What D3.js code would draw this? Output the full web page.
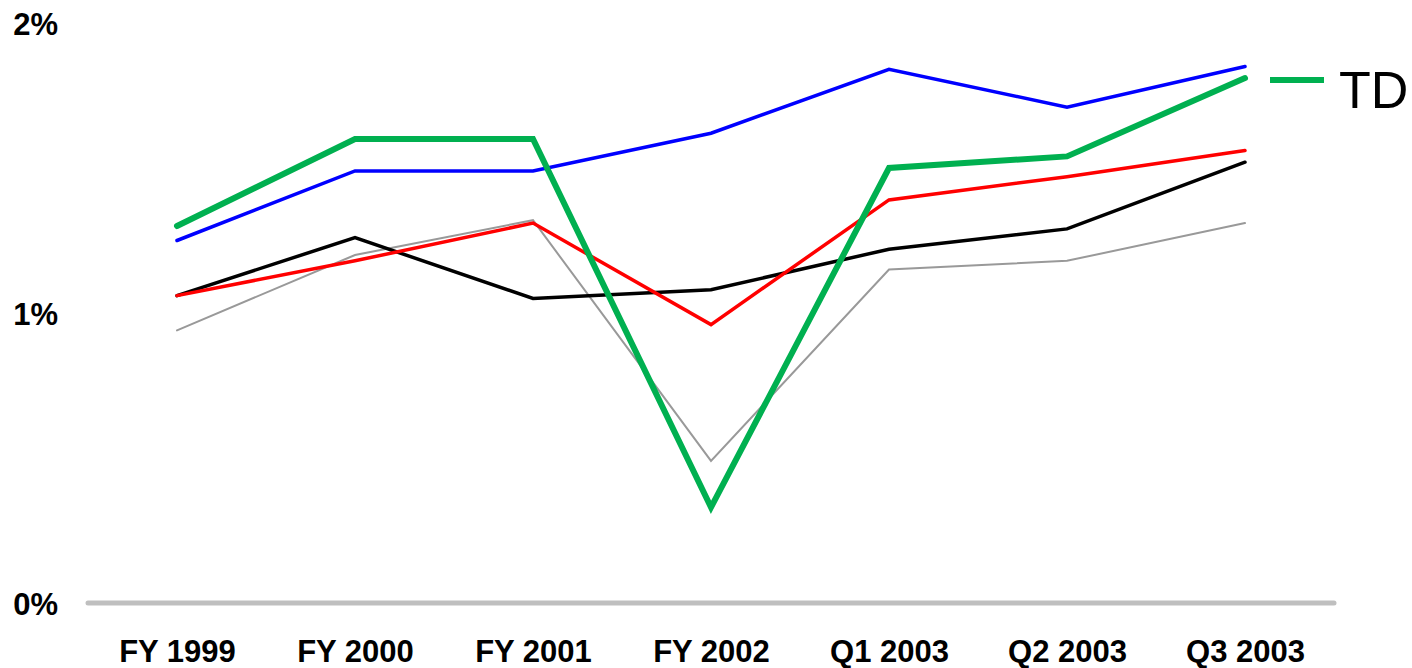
<!DOCTYPE html>
<html>
<head>
<meta charset="utf-8">
<script src="https://cdn.jsdelivr.net/npm/d3@7"></script>
<style>
  body { margin: 0; background: #fff; }
  svg { display: block; }
</style>
</head>
<body>
<svg id="chart" width="1412" height="668"></svg>
<script>
// periods on the x axis
var periods = ["FY 1999", "FY 2000", "FY 2001", "FY 2002", "Q1 2003", "Q2 2003", "Q3 2003"];
var yTicks = [0, 0.01, 0.02];

// series values (fraction)
var td    = [0.0130, 0.0160, 0.0160, 0.0033, 0.0150, 0.0154, 0.0181];
var blue  = [0.0125, 0.0149, 0.0149, 0.0162, 0.0184, 0.0171, 0.0185];
var red   = [0.0106, 0.0118, 0.0131, 0.0096, 0.0139, 0.0147, 0.0156];
var black = [0.0106, 0.0126, 0.0105, 0.0108, 0.0122, 0.0129, 0.0152];
var grey  = [0.0094, 0.0120, 0.0132, 0.0049, 0.0115, 0.0118, 0.0131];

var series = [
    {name: "grey",  values: grey,  color: "#999999", width: 2},
    {name: "black", values: black, color: "#000000", width: 3.5},
    {name: "red",   values: red,   color: "#ff0000", width: 3.5},
    {name: "blue",  values: blue,  color: "#0000ff", width: 3.5},
    {name: "TD",    values: td,    color: "#00b050", width: 6}
];

var svg = d3.select("#chart");

var xscale = d3.scalePoint()
    .domain(periods)
    .range([88, 1334])
    .padding(0.5);

var yscale = d3.scaleLinear()
    .domain([0, 0.02])
    .range([603, 23]);

// zero line
svg.append("line")
    .attr("x1", 88)
    .attr("x2", 1334)
    .attr("y1", yscale(0))
    .attr("y2", yscale(0))
    .attr("stroke", "#bfbfbf")
    .attr("stroke-width", 5)
    .attr("stroke-linecap", "round");

// y axis labels
var yAxis = d3.axisLeft(yscale)
    .tickValues(yTicks)
    .tickSize(0)
    .tickPadding(0)
    .tickFormat(d3.format(".0%"));
var gy = svg.append("g")
    .attr("transform", "translate(58,0)")
    .call(yAxis);
gy.select(".domain").remove();
gy.selectAll("text")
    .attr("font-family", "Liberation Sans, Arial, sans-serif")
    .attr("font-size", 31)
    .attr("font-weight", "bold")
    .attr("fill", "#000")
    .attr("dy", "0.38em");

// x axis labels
var xAxis = d3.axisBottom(xscale).tickSize(0).tickPadding(0);
var gx = svg.append("g")
    .attr("transform", "translate(0,640)")
    .call(xAxis);
gx.select(".domain").remove();
gx.selectAll("text")
    .attr("font-family", "Liberation Sans, Arial, sans-serif")
    .attr("font-size", 31)
    .attr("font-weight", "bold")
    .attr("fill", "#000")
    .attr("dy", "0.71em");

var line = d3.line()
    .x(function(d, i) { return xscale(periods[i]); })
    .y(function(d) { return yscale(d); });

svg.append("g")
    .selectAll("path")
    .data(series)
    .enter().append("path")
    .attr("d", function(d) { return line(d.values); })
    .attr("fill", "none")
    .attr("stroke", function(d) { return d.color; })
    .attr("stroke-width", function(d) { return d.width; })
    .attr("stroke-linejoin", "miter")
    .attr("stroke-linecap", "round");

// legend, only TD is labelled
var legend = svg.append("g").attr("transform", "translate(1270,80)");
legend.append("line")
    .attr("x1", 0)
    .attr("x2", 54)
    .attr("stroke", "#00b050")
    .attr("stroke-width", 6);
legend.append("text")
    .attr("x", 69)
    .attr("y", 28)
    .attr("font-family", "Liberation Sans, Arial, sans-serif")
    .attr("font-size", 52)
    .attr("fill", "#000")
    .text("TD");
</script>
</body>
</html>
